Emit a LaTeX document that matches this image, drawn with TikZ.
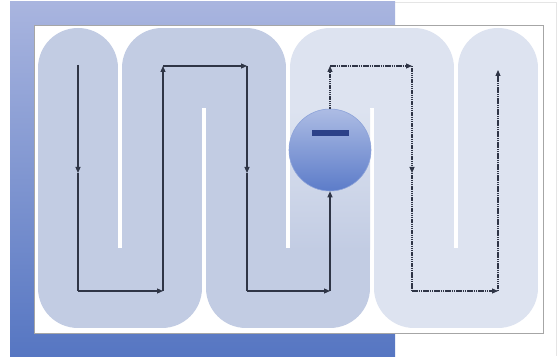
\documentclass[tikz,border=0pt]{standalone}
\usetikzlibrary{arrows.meta}
\definecolor{framelight}{HTML}{A9B5DF}
\definecolor{framedark}{HTML}{5676C2}
\definecolor{pathdark}{HTML}{C2CCE3}
\definecolor{pathlight}{HTML}{DDE3F0}
\definecolor{flow}{HTML}{2F3546}
\definecolor{ballTop}{HTML}{ADBCE4}
\definecolor{ballBot}{HTML}{5C7CC9}
\definecolor{minuscol}{HTML}{2C4188}
\begin{document}
\begin{tikzpicture}[x=1pt,y=-1pt,
  strip/.style={line width=80pt,line join=round,line cap=round},
  flowline/.style={draw=flow,line width=1.1pt},
  tip/.style={-{Triangle[length=6pt,width=5pt]}},
  dotline/.style={flowline,dash pattern=on 1.5pt off 0.7pt},
  ball/.style={circle,minimum size=82pt,inner sep=0pt,top color=ballTop,bottom color=ballBot,draw=ballBot!70!white,line width=0.6pt},
  minusbar/.style={fill=minuscol,minimum width=37pt,minimum height=6pt,inner sep=0pt}]
\useasboundingbox (0,0) rectangle (557,358);
\fill[white] (0,0) rectangle (557,358);
\draw[black!10,line width=0.6pt] (10,2.3) -- (556,2.3) -- (556,356);
\shade[top color=framelight,bottom color=framedark] (10,2) rectangle (395,356);
\draw[fill=white,draw=black!35,line width=0.8pt] (34.5,25) rectangle (543.5,333.5);
% serpentine strip
\draw[strip,pathdark] (78,68) -- (78,288) -- (162,288) -- (162,68) -- (246,68) -- (246,288) -- (330,288) -- (330,250);
\draw[strip,pathlight] (330,110) -- (330,68) -- (414,68) -- (414,288) -- (498,288) -- (498,68);
\shade[top color=pathlight,bottom color=pathdark] (290,110) rectangle (370,250);
% ball
\node[ball] (ball) at (330,150) {};
\node[minusbar] (minus) at (330,133) {};
% coordinates
\coordinate (a1) at (78,65);
\coordinate (a1m) at (78,173);
\coordinate (a1b) at (78,291);
\coordinate (b2) at (163,291);
\coordinate (t2) at (163,66);
\coordinate (t3) at (247,66);
\coordinate (m3) at (247,173);
\coordinate (b3) at (247,291);
\coordinate (b4) at (330,291);
\coordinate (t4) at (330,66);
\coordinate (t5) at (412,66);
\coordinate (m5) at (412,173);
\coordinate (b5) at (412,291);
\coordinate (b6) at (498,291);
\coordinate (t6) at (498,70);
% solid flow
\draw[flowline,tip] (a1) -- (a1m);
\draw[flowline] (a1m) -- (a1b);
\draw[flowline,tip] (a1b) -- (b2);
\draw[flowline,tip] (b2) -- (t2);
\draw[flowline,tip] (t2) -- (t3);
\draw[flowline,tip] (t3) -- (m3);
\draw[flowline] (m3) -- (b3);
\draw[flowline,tip] (b3) -- (b4);
\draw[flowline,tip] (b4) -- (ball.south);
% dotted flow
\draw[dotline,tip] (ball.north) -- (t4);
\draw[dotline,tip] (t4) -- (t5);
\draw[dotline,tip] (t5) -- (m5);
\draw[dotline] (m5) -- (b5);
\draw[dotline,tip] (b5) -- (b6);
\draw[dotline,tip] (b6) -- (t6);
\end{tikzpicture}
\end{document}
